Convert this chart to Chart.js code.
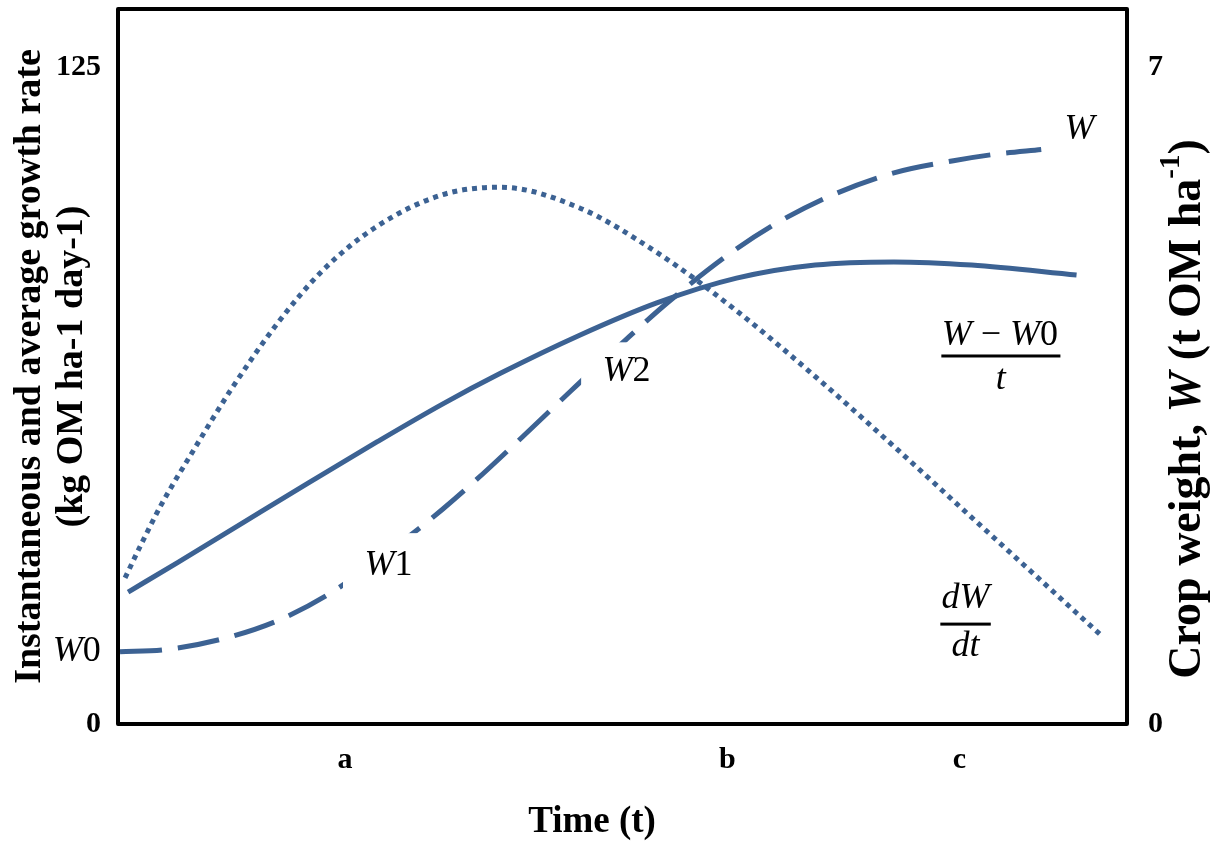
<!DOCTYPE html>
<html>
<head>
<meta charset="utf-8">
<script src="https://cdn.jsdelivr.net/npm/chart.js@4.4.1/dist/chart.umd.min.js"></script>
<style>
    html, body { margin: 0; padding: 0; background: #ffffff; }
    #wrap { width: 1213px; height: 841px; }
</style>
</head>
<body>
<div id="wrap"><canvas id="chart"></canvas></div>
<script>
// time axis runs 0..100 (no units, only the a/b/c marks are shown)
const tickPos = [22.5, 60.4, 83.4];
const tickLabels = ['a', 'b', 'c'];

// instantaneous growth rate dW/dt (left axis)
const rateT = [0.7, 2.2, 4.2, 7.4, 11.1, 15.8, 20.3, 25.7, 32.2, 37.9, 45.7, 53.4, 61.3, 69.1, 76.9, 84.6, 92.5, 97.3];
const rateV = [27.8, 33.8, 41.4, 51.8, 63.3, 76.2, 86.3, 94.7, 100.7, 102.1, 98.2, 89.7, 78.6, 66.1, 52.8, 39.3, 25.5, 17.1];

// average growth rate (W - W0)/t (left axis)
const avgT = [1.0, 5.9, 12.4, 19.0, 25.7, 32.2, 37.9, 45.7, 53.4, 61.3, 69.1, 76.9, 84.6, 95.0];
const avgV = [25.1, 30.7, 38.3, 46.0, 53.7, 60.9, 66.7, 73.9, 80.1, 84.8, 87.3, 87.9, 87.3, 85.4];

// crop weight W (right axis, t OM/ha)
const weightT = [0.2, 4.5, 10.1, 15.8, 21.0, 29.2, 32.2, 35.6, 40.1, 44.9, 50.4, 54.6, 60.5, 65.2, 70.7, 76.9, 82.8, 87.0, 91.5];
const weightV = [0.77, 0.79, 0.90, 1.10, 1.39, 2.03, 2.29, 2.61, 3.06, 3.55, 4.10, 4.50, 5.00, 5.33, 5.63, 5.87, 6.00, 6.07, 6.12];

const leftTicks = [0, 125];
const rightTicks = [0, 7];

const LINE = '#3c6293';
const SERIF = '"Liberation Serif", "Times New Roman", serif';

const pts = (xs, ys) => xs.map((x, i) => ({ x: x, y: ys[i] }));

// little helper for the Cambria-Math like labels: [text, italic]
function mathText(ctx, parts, x, y, align, size) {
    size = size || 36;
    let w = 0;
    parts.forEach(p => {
        ctx.font = (p[1] ? 'italic ' : '') + size + 'px ' + SERIF;
        w += ctx.measureText(p[0]).width;
    });
    let cx = align === 'right' ? x - w : (align === 'left' ? x : x - w / 2);
    ctx.textAlign = 'left';
    ctx.textBaseline = 'middle';
    ctx.fillStyle = '#000';
    parts.forEach(p => {
        ctx.font = (p[1] ? 'italic ' : '') + size + 'px ' + SERIF;
        ctx.fillText(p[0], cx, y);
        cx += ctx.measureText(p[0]).width;
    });
    return w;
}

// text made of runs with their own font, optional vertical shift
function runText(ctx, parts, x, y) {
    let w = 0;
    parts.forEach(p => { ctx.font = p[1] + SERIF; w += ctx.measureText(p[0]).width; });
    let cx = x - w / 2;
    ctx.textAlign = 'left';
    ctx.textBaseline = 'middle';
    ctx.fillStyle = '#000';
    parts.forEach(p => {
        ctx.font = p[1] + SERIF;
        ctx.fillText(p[0], cx, y + (p[2] || 0));
        cx += ctx.measureText(p[0]).width;
    });
}

const labelsPlugin = {
    id: 'labels',
    afterDatasetDraw(chart, args) {
        // white boxes behind W1 / W2 only hide the W curve
        if (args.index !== 2) return;
        const ctx = chart.ctx;
        const xs = chart.scales.x, ys = chart.scales.y;
        ctx.save();
        ctx.fillStyle = '#ffffff';
        [[22.3, 36.3, 31.4, 23.6], [45.9, 72.6, 54.7, 61.6]].forEach(b => {
            const x1 = xs.getPixelForValue(b[0]), y1 = ys.getPixelForValue(b[1]);
            const x2 = xs.getPixelForValue(b[2]), y2 = ys.getPixelForValue(b[3]);
            ctx.fillRect(x1, y1, x2 - x1, y2 - y1);
        });
        ctx.restore();
    },
    afterDraw(chart) {
        const ctx = chart.ctx;
        const a = chart.chartArea;
        const xs = chart.scales.x, ys = chart.scales.y;
        const px = v => xs.getPixelForValue(v);
        const py = v => ys.getPixelForValue(v);
        ctx.save();

        // plot frame
        ctx.strokeStyle = '#000';
        ctx.lineWidth = 4;
        ctx.lineJoin = 'round';
        ctx.strokeRect(a.left, a.top, a.right - a.left, a.bottom - a.top);

        mathText(ctx, [['W', 1], ['0', 0]], px(-1.7), py(13.7), 'right');
        mathText(ctx, [['W', 1], ['1', 0]], px(26.8), py(30.2), 'center');
        mathText(ctx, [['W', 1], ['2', 0]], px(50.4), py(67.1), 'center');
        mathText(ctx, [['W', 1]], px(95.3), py(113.0), 'center');

        // (W - W0) / t
        mathText(ctx, [['W', 1], [' \u2212 ', 0], ['W', 1], ['0', 0]], px(87.4), py(73.8), 'center');
        ctx.fillStyle = '#000';
        ctx.fillRect(px(81.6), py(70.0) - 1.5, px(93.4) - px(81.6), 3);
        mathText(ctx, [['t', 1]], px(87.5), py(65.6), 'center');

        // dW / dt
        mathText(ctx, [['dW', 1]], px(84.0), py(23.8), 'center');
        ctx.fillStyle = '#000';
        ctx.fillRect(px(81.5), py(19.0) - 1.5, px(86.5) - px(81.5), 3);
        mathText(ctx, [['dt', 1]], px(84.0), py(14.8), 'center');

        // x axis title
        runText(ctx, [['Time (t)', 'bold 37px ']], 592, 822);

        // right axis title, rotated, with italic W and superscript
        ctx.translate(1188, 409);
        ctx.rotate(-Math.PI / 2);
        runText(ctx, [
            ['Crop weight, ', 'bold 46px '],
            ['W', 'italic bold 46px '],
            [' (t OM ha', 'bold 46px '],
            ['-1', 'bold 29px ', -16],
            [')', 'bold 46px ']
        ], 0, 0);
        ctx.restore();
    }
};

const noPadY = s => { s.paddingTop = 0; s.paddingBottom = 0; };

new Chart(document.getElementById('chart'), {
    type: 'line',
    data: {
        datasets: [{
            label: 'dW/dt',
            data: pts(rateT, rateV),
            yAxisID: 'y',
            borderColor: LINE,
            borderWidth: 5,
            borderDash: [5, 5],
            borderCapStyle: 'butt',
            pointRadius: 0,
            cubicInterpolationMode: 'monotone'
        }, {
            label: '(W-W0)/t',
            data: pts(avgT, avgV),
            yAxisID: 'y',
            borderColor: LINE,
            borderWidth: 5,
            pointRadius: 0,
            cubicInterpolationMode: 'monotone'
        }, {
            label: 'W',
            data: pts(weightT, weightV),
            yAxisID: 'y2',
            borderColor: LINE,
            borderWidth: 5,
            borderDash: [42, 16],
            borderCapStyle: 'butt',
            pointRadius: 0,
            cubicInterpolationMode: 'monotone'
        }]
    },
    options: {
        responsive: true,
        maintainAspectRatio: false,
        animation: false,
        layout: { padding: { top: 9 } },
        plugins: {
            legend: { display: false },
            tooltip: { enabled: false }
        },
        scales: {
            x: {
                type: 'linear',
                min: 0,
                max: 100,
                grid: { display: false, drawTicks: false },
                border: { display: false },
                afterBuildTicks: s => { s.ticks = tickPos.map(v => ({ value: v })); },
                afterFit: s => { s.height = 117; s.paddingLeft = 0; s.paddingRight = 0; },
                ticks: {
                    autoSkip: false,
                    maxRotation: 0,
                    padding: 18,
                    color: '#000',
                    font: { family: SERIF, size: 30, weight: 'bold' },
                    callback: (v, i) => tickLabels[i]
                }
            },
            y: {
                position: 'left',
                min: 0,
                max: 136,
                grid: { display: false, drawTicks: false },
                border: { display: false },
                afterBuildTicks: s => { s.ticks = leftTicks.map(v => ({ value: v })); },
                afterFit: s => { s.width = 118; noPadY(s); },
                ticks: {
                    padding: 17,
                    color: '#000',
                    font: { family: SERIF, size: 30, weight: 'bold' }
                },
                title: {
                    display: true,
                    text: ['Instantaneous and average growth rate', '(kg OM ha-1 day-1)'],
                    color: '#000',
                    font: { family: SERIF, size: 38, weight: 'bold', lineHeight: 1.1 },
                    padding: { top: 9, bottom: 0 }
                }
            },
            y2: {
                position: 'right',
                min: 0,
                max: 7.616,
                grid: { display: false, drawTicks: false },
                border: { display: false },
                afterBuildTicks: s => { s.ticks = rightTicks.map(v => ({ value: v })); },
                afterFit: s => { s.width = 86; noPadY(s); },
                ticks: {
                    padding: 21,
                    color: '#000',
                    font: { family: SERIF, size: 30, weight: 'bold' }
                }
            }
        }
    },
    plugins: [labelsPlugin]
});
</script>
</body>
</html>
